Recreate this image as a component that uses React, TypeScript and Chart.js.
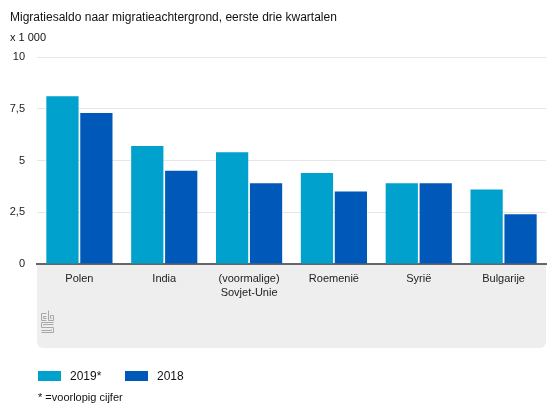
import React, { useEffect, useRef } from "react";
import { Chart, registerables } from "chart.js";

Chart.register(...registerables);

const categories: (string | string[])[] = [
  "Polen",
  "India",
  ["(voormalige)", "Sovjet-Unie"],
  "Roemenië",
  "Syrië",
  "Bulgarije",
];
const values2019 = [8.1, 5.7, 5.4, 4.4, 3.9, 3.6];
const values2018 = [7.3, 4.5, 3.9, 3.5, 3.9, 2.4];
const yTicks = [0, 2.5, 5, 7.5, 10];

const title = "Migratiesaldo naar migratieachtergrond, eerste drie kwartalen";
const unitLabel = "x 1 000";
const legendLabels = ["2019*", "2018"];
const footnote = "* =voorlopig cijfer";

const COLOR_2019 = "#00A1CD";
const COLOR_2018 = "#0058B8";
const FONT = "'Liberation Sans', Arial, Helvetica, sans-serif";
const BAND_HEIGHT = 84;

const bandPlugin = {
  id: "band",
  beforeDraw(chart: any) {
    const { ctx, chartArea } = chart;
    const x = chartArea.left;
    const y = chartArea.bottom;
    const w = chartArea.right - chartArea.left;
    const h = BAND_HEIGHT;
    ctx.save();
    ctx.fillStyle = "#eeeeee";
    ctx.beginPath();
    if (ctx.roundRect) {
      ctx.roundRect(x, y, w, h, [0, 0, 6, 6]);
    } else {
      ctx.rect(x, y, w, h);
    }
    ctx.fill();
    // logo (approximate CBS mark)
    const lx = x + 4;
    const ly = y + 48;
    ctx.strokeStyle = "#a8a8a8";
    ctx.lineWidth = 1;
    ctx.beginPath();
    // c
    ctx.moveTo(lx + 5.5, ly + 1.5);
    ctx.lineTo(lx + 0.5, ly + 1.5);
    ctx.lineTo(lx + 0.5, ly + 8.5);
    ctx.lineTo(lx + 5.5, ly + 8.5);
    ctx.moveTo(lx + 5.5, ly + 4.5);
    ctx.lineTo(lx + 2.5, ly + 4.5);
    ctx.lineTo(lx + 2.5, ly + 6.5);
    ctx.lineTo(lx + 5.5, ly + 6.5);
    // b
    ctx.moveTo(lx + 7.5, ly - 1.5);
    ctx.lineTo(lx + 7.5, ly + 8.5);
    ctx.lineTo(lx + 12.5, ly + 8.5);
    ctx.lineTo(lx + 12.5, ly + 3.5);
    ctx.lineTo(lx + 9.5, ly + 3.5);
    ctx.lineTo(lx + 9.5, ly + 6.5);
    ctx.lineTo(lx + 10.5, ly + 6.5);
    // s
    ctx.moveTo(lx + 12.5, ly + 10.5);
    ctx.lineTo(lx + 0.5, ly + 10.5);
    ctx.lineTo(lx + 0.5, ly + 15.5);
    ctx.lineTo(lx + 12.5, ly + 15.5);
    ctx.lineTo(lx + 12.5, ly + 20.5);
    ctx.lineTo(lx + 0.5, ly + 20.5);
    ctx.moveTo(lx + 12.5, ly + 12.5);
    ctx.lineTo(lx + 2.5, ly + 12.5);
    ctx.lineTo(lx + 2.5, ly + 13.5);
    ctx.moveTo(lx + 0.5, ly + 18.5);
    ctx.lineTo(lx + 10.5, ly + 18.5);
    ctx.lineTo(lx + 10.5, ly + 17.5);
    ctx.stroke();
    ctx.restore();
  },
};

export default function App() {
  const canvasRef = useRef<HTMLCanvasElement | null>(null);

  useEffect(() => {
    if (!canvasRef.current) return;
    const chart = new Chart(canvasRef.current, {
      type: "bar",
      data: {
        labels: categories as any,
        datasets: [
          {
            label: legendLabels[0],
            data: values2019,
            backgroundColor: COLOR_2019,
            categoryPercentage: 0.8,
            barPercentage: 0.95,
          },
          {
            label: legendLabels[1],
            data: values2018,
            backgroundColor: COLOR_2018,
            categoryPercentage: 0.8,
            barPercentage: 0.95,
          },
        ],
      },
      options: {
        animation: false,
        responsive: false,
        maintainAspectRatio: false,
        layout: { padding: { left: 0, top: 57, right: 9, bottom: 68 } },
        plugins: {
          legend: { display: false },
          tooltip: { enabled: false },
          title: { display: false },
        },
        scales: {
          x: {
            grid: { display: false, drawTicks: false },
            border: { display: true, color: "#666666", width: 2 },
            ticks: {
              color: "#222222",
              font: { family: FONT, size: 11, lineHeight: 1.3 },
              padding: 8,
              maxRotation: 0,
              autoSkip: false,
            },
            afterFit(scale: any) {
              scale.height = BAND_HEIGHT;
            },
          },
          y: {
            min: 0,
            max: 10,
            afterBuildTicks(scale: any) {
              scale.ticks = yTicks.map((v) => ({ value: v }));
            },
            grid: { color: "#e6e6e6", drawTicks: false, lineWidth: 1 },
            border: { display: false },
            ticks: {
              color: "#222222",
              font: { family: FONT, size: 11 },
              padding: 12,
              callback: (v: any) => String(v).replace(".", ","),
            },
            afterFit(scale: any) {
              scale.width = 37;
            },
          },
        },
      },
      plugins: [bandPlugin],
    });
    return () => chart.destroy();
  }, []);

  const textStyle: React.CSSProperties = {
    position: "absolute",
    whiteSpace: "nowrap",
    color: "#111",
    fontFamily: FONT,
  };

  return (
    <div
      style={{
        position: "absolute",
        left: 0,
        top: 0,
        width: 555,
        height: 416,
        background: "#ffffff",
        overflow: "hidden",
      }}
    >
      <canvas
        ref={canvasRef}
        width={555}
        height={416}
        style={{ position: "absolute", left: 0, top: 0, width: 555, height: 416 }}
      />
      <div style={{ ...textStyle, left: 10, top: 10, fontSize: 12 }}>{title}</div>
      <div style={{ ...textStyle, left: 10, top: 31, fontSize: 11 }}>{unitLabel}</div>
      <div
        style={{
          position: "absolute",
          left: 38,
          top: 371,
          width: 23,
          height: 10,
          background: COLOR_2019,
        }}
      />
      <div style={{ ...textStyle, left: 70, top: 369, fontSize: 12 }}>{legendLabels[0]}</div>
      <div
        style={{
          position: "absolute",
          left: 125,
          top: 371,
          width: 23,
          height: 10,
          background: COLOR_2018,
        }}
      />
      <div style={{ ...textStyle, left: 157, top: 369, fontSize: 12 }}>{legendLabels[1]}</div>
      <div style={{ ...textStyle, left: 38, top: 391, fontSize: 11 }}>{footnote}</div>
    </div>
  );
}
